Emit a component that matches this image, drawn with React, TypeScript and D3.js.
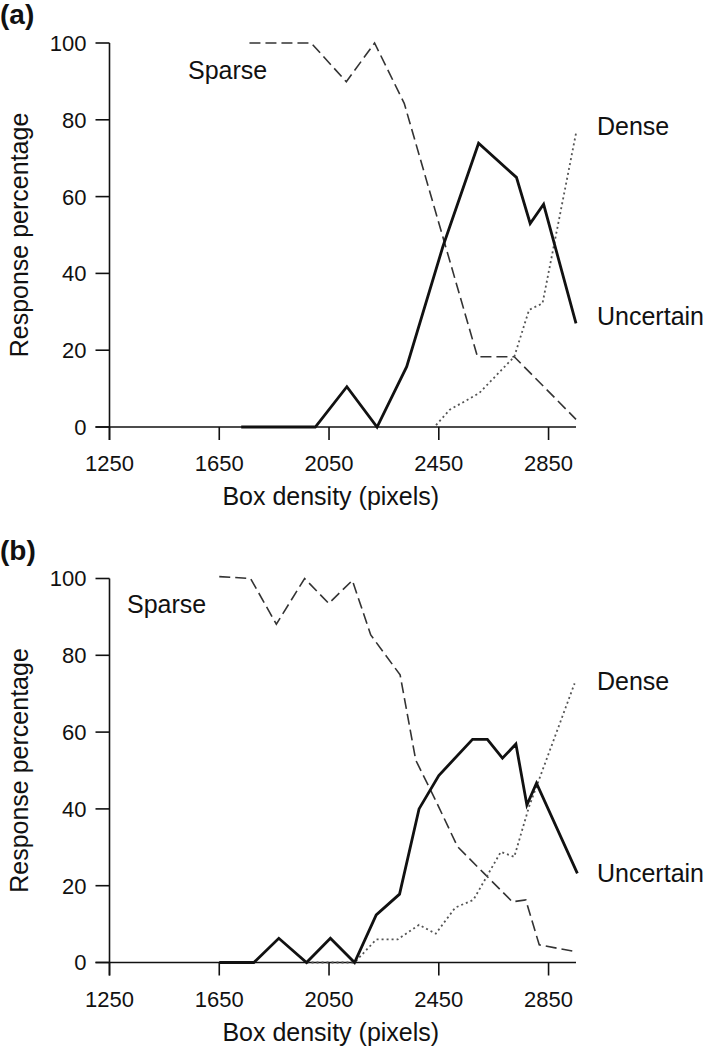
import React from "react";
import * as d3 from "d3";

// ---- data ----
const xTicks = [1250, 1650, 2050, 2450, 2850];
const yTicks = [0, 20, 40, 60, 80, 100];

// Panel (a)
const aSparse: [number, number][] = [
  [1760, 100], [1985, 100], [2113, 89.9], [2216, 100], [2324, 84.3],
  [2591, 18.3], [2725, 18.3], [2950, 2],
];
const aUncertain: [number, number][] = [
  [1730, 0], [2000, 0], [2115, 10.5], [2225, 0], [2333, 15.7], [2465, 47],
  [2595, 73.9], [2733, 65], [2783, 53], [2832, 58], [2950, 27],
];
const aDense: [number, number][] = [
  [2440, 0.5], [2490, 4.5], [2597, 8.8], [2725, 18.3], [2779, 30.5],
  [2828, 32.2], [2950, 76.5],
];

// Panel (b)
const bSparse: [number, number][] = [
  [1650, 100.5], [1764, 100], [1858, 88.1], [1961, 100], [2049, 93.5],
  [2135, 99.5], [2202, 85.3], [2309, 74.9], [2366, 52.7], [2440, 42],
  [2518, 30.2], [2615, 23.2], [2718, 15.8], [2767, 16.3], [2816, 4.6],
  [2950, 2.8],
];
const bUncertain: [number, number][] = [
  [1650, 0], [1776, 0], [1867, 6.3], [1968, 0], [2055, 6.3], [2143, 0],
  [2222, 12.4], [2307, 17.8], [2378, 40], [2450, 48.7], [2573, 58.1],
  [2627, 58.1], [2682, 53.2], [2731, 56.9], [2771, 41], [2806, 46.7],
  [2955, 23.2],
];
const bDense: [number, number][] = [
  [1968, 0], [2143, 0], [2222, 6], [2300, 6], [2378, 9.8], [2439, 7.5],
  [2510, 14.3], [2576, 16.3], [2676, 28.8], [2725, 27.5], [2779, 40.6],
  [2945, 72.7],
];

const FONT = "'Liberation Sans', Arial, Helvetica, sans-serif";

type PanelProps = {
  top: number;
  letter: string;
  sparse: [number, number][];
  uncertain: [number, number][];
  dense: [number, number][];
  sparseLabel: [number, number];
  denseLabel: [number, number];
  uncertainLabel: [number, number];
};

function Panel(p: PanelProps) {
  const x = d3.scaleLinear().domain([1250, 2950]).range([109.5, 576]);
  const y = d3.scaleLinear().domain([0, 100]).range([p.top + 384, p.top]);
  const line = d3
    .line<[number, number]>()
    .x((d) => x(d[0]))
    .y((d) => y(d[1]));
  const y0 = y(0);
  const ax = x(1250);
  return (
    <g fontFamily={FONT}>
      <text x={0} y={p.top - 19} fontSize={28} fontWeight="bold" fill="#111">
        {p.letter}
      </text>
      {/* axes */}
      <line x1={ax} x2={ax} y1={y(100)} y2={y0 + 13} stroke="#111" strokeWidth={1.6} />
      <line x1={ax - 14} x2={x(2950)} y1={y0} y2={y0} stroke="#111" strokeWidth={1.6} />
      {yTicks.map((t) => (
        <g key={"y" + t}>
          <line x1={ax - 14} x2={ax} y1={y(t)} y2={y(t)} stroke="#111" strokeWidth={1.6} />
          <text x={ax - 23} y={y(t)} dy="0.36em" textAnchor="end" fontSize={22} fill="#111">
            {t}
          </text>
        </g>
      ))}
      {xTicks.map((t) => (
        <g key={"x" + t}>
          <line x1={x(t)} x2={x(t)} y1={y0} y2={y0 + 13} stroke="#111" strokeWidth={1.6} />
          <text x={x(t)} y={y0 + 44} textAnchor="middle" fontSize={22} fill="#111">
            {t}
          </text>
        </g>
      ))}
      <text x={(109.5 + 576) / 2 - 12} y={y0 + 78} textAnchor="middle" fontSize={25} fill="#111">
        Box density (pixels)
      </text>
      <text
        transform={`translate(28,${(y(100) + y0) / 2}) rotate(-90)`}
        textAnchor="middle"
        fontSize={25}
        fill="#111"
      >
        Response percentage
      </text>
      {/* series */}
      <path d={line(p.sparse) || ""} fill="none" stroke="#333" strokeWidth={1.6} strokeDasharray="11,5" />
      <path d={line(p.dense) || ""} fill="none" stroke="#555" strokeWidth={1.8} strokeDasharray="2,3" />
      <path d={line(p.uncertain) || ""} fill="none" stroke="#111" strokeWidth={2.8} strokeLinejoin="miter" />
      <text x={p.sparseLabel[0]} y={p.sparseLabel[1]} fontSize={25} fill="#111">Sparse</text>
      <text x={p.denseLabel[0]} y={p.denseLabel[1]} fontSize={25} fill="#111">Dense</text>
      <text x={p.uncertainLabel[0]} y={p.uncertainLabel[1]} fontSize={25} fill="#111">Uncertain</text>
    </g>
  );
}

export default function App() {
  return (
    <svg
      width={704}
      height={1050}
      viewBox="0 0 704 1050"
      style={{ position: "absolute", left: 0, top: 0, background: "#fff" }}
    >
      <rect width={704} height={1050} fill="#fff" />
      <Panel
        top={43}
        letter="(a)"
        sparse={aSparse}
        uncertain={aUncertain}
        dense={aDense}
        sparseLabel={[188, 79]}
        denseLabel={[597, 135]}
        uncertainLabel={[597, 325]}
      />
      <Panel
        top={578.5}
        letter="(b)"
        sparse={bSparse}
        uncertain={bUncertain}
        dense={bDense}
        sparseLabel={[127, 613]}
        denseLabel={[597, 690]}
        uncertainLabel={[597, 882]}
      />
    </svg>
  );
}
